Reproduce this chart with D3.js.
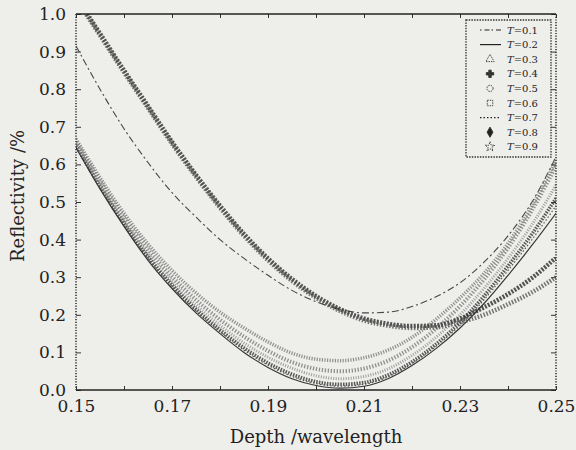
<!DOCTYPE html>
<html lang="zh">
<head>
<meta charset="utf-8">
<script src="https://d3js.org/d3.v7.min.js"></script>
<style>
body { margin: 0; background: #eeeeeb; }
text { font-family: "DejaVu Serif", serif; fill: #222; }
</style>
</head>
<body>
<svg width="576" height="450"></svg>
<script>
// depth (in wavelengths) and reflectivity
var depth = [0.150, 0.155, 0.160, 0.165, 0.170, 0.175, 0.180, 0.185, 0.190, 0.195, 0.200,
             0.205, 0.210, 0.215, 0.220, 0.225, 0.230, 0.235, 0.240, 0.245, 0.250];

var r01 = [0.915, 0.800, 0.695, 0.605, 0.525, 0.460, 0.400, 0.350, 0.305, 0.265, 0.235,
           0.215, 0.205, 0.207, 0.222, 0.248, 0.285, 0.340, 0.410, 0.500, 0.620];
var r02 = [0.645, 0.535, 0.435, 0.345, 0.270, 0.205, 0.150, 0.100, 0.060, 0.030, 0.012,
           0.005, 0.010, 0.030, 0.065, 0.110, 0.165, 0.230, 0.305, 0.385, 0.470];
var r03 = [0.668, 0.565, 0.470, 0.388, 0.318, 0.258, 0.207, 0.165, 0.128, 0.098, 0.082,
           0.078, 0.086, 0.106, 0.140, 0.188, 0.245, 0.310, 0.390, 0.490, 0.610];
var r04 = [0.650, 0.542, 0.443, 0.355, 0.280, 0.215, 0.160, 0.112, 0.072, 0.042, 0.022,
           0.015, 0.020, 0.040, 0.075, 0.122, 0.180, 0.250, 0.330, 0.415, 0.510];
var r05 = [0.655, 0.548, 0.450, 0.363, 0.290, 0.226, 0.172, 0.125, 0.087, 0.058, 0.038,
           0.030, 0.036, 0.056, 0.092, 0.140, 0.200, 0.270, 0.350, 0.440, 0.545];
var r06 = [0.660, 0.555, 0.458, 0.374, 0.302, 0.240, 0.187, 0.142, 0.104, 0.074, 0.056,
           0.050, 0.057, 0.078, 0.114, 0.163, 0.223, 0.294, 0.378, 0.478, 0.595];
var r07 = [0.647, 0.538, 0.439, 0.350, 0.275, 0.210, 0.155, 0.106, 0.066, 0.036, 0.017,
           0.010, 0.015, 0.035, 0.070, 0.116, 0.172, 0.240, 0.318, 0.400, 0.490];
var r08 = [1.045, 0.948, 0.850, 0.755, 0.660, 0.572, 0.490, 0.415, 0.350, 0.295, 0.250,
           0.215, 0.190, 0.176, 0.170, 0.172, 0.190, 0.220, 0.255, 0.298, 0.352];
var r09 = [1.040, 0.943, 0.845, 0.750, 0.655, 0.567, 0.485, 0.410, 0.345, 0.290, 0.245,
           0.210, 0.185, 0.171, 0.165, 0.167, 0.180, 0.200, 0.228, 0.260, 0.300];

var names = ["T=0.1", "T=0.2", "T=0.3", "T=0.4", "T=0.5", "T=0.6", "T=0.7", "T=0.8", "T=0.9"];
var values = [r01, r02, r03, r04, r05, r06, r07, r08, r09];

var xTicks = [0.15, 0.16, 0.17, 0.18, 0.19, 0.20, 0.21, 0.22, 0.23, 0.24, 0.25];
var xLabels = [0.15, 0.17, 0.19, 0.21, 0.23, 0.25];
var yTicks = [0.0, 0.1, 0.2, 0.3, 0.4, 0.5, 0.6, 0.7, 0.8, 0.9, 1.0];

// look of each series: dense scanned markers are faked with dashed thick strokes
var looks = [
  { stroke: "#333", width: 1.1, dash: "7,3,2,3", op: 0.9 },
  { stroke: "#222", width: 1.2, dash: null, op: 0.9 },
  { stroke: "#777", width: 3.5, dash: "1.2,1.4", sym: d3.symbolTriangle, fill: "none", op: 0.8 },
  { stroke: "#333", width: 3.5, dash: "1.5,1.2", sym: d3.symbolCross, fill: "#333", op: 0.8 },
  { stroke: "#888", width: 3, dash: "1,1.5", sym: d3.symbolCircle, fill: "none", op: 0.8 },
  { stroke: "#777", width: 4, dash: "1.3,1.7", sym: d3.symbolSquare, fill: "none", op: 0.8 },
  { stroke: "#444", width: 1.2, dash: "1.5,2", op: 0.9 },
  { stroke: "#2a2a2a", width: 4.5, dash: "2,1.4", sym: d3.symbolDiamond, fill: "#222", op: 0.8 },
  { stroke: "#555", width: 4.5, dash: "1.5,1.6", sym: d3.symbolStar, fill: "none", op: 0.8 }
];

var svg = d3.select("svg"),
    pL = 76, pR = 556, pT = 14, pB = 390;

var x = d3.scaleLinear().domain([0.15, 0.25]).range([pL, pR]);
var y = d3.scaleLinear().domain([0, 1]).range([pB, pT]);

svg.append("rect").attr("width", 576).attr("height", 450).attr("fill", "#eeeeeb");

svg.append("clipPath").attr("id", "plot")
  .append("rect").attr("x", pL).attr("y", pT)
  .attr("width", pR - pL).attr("height", pB - pT);

// curves
var line = d3.line()
    .x(function(d, i) { return x(depth[i]); })
    .y(function(d) { return y(d); })
    .curve(d3.curveMonotoneX);

var curves = svg.append("g").attr("clip-path", "url(#plot)");
values.forEach(function(v, k) {
  var s = looks[k];
  curves.append("path")
      .attr("d", line(v))
      .attr("fill", "none")
      .attr("stroke", s.stroke)
      .attr("stroke-width", s.width)
      .attr("stroke-dasharray", s.dash)
      .attr("opacity", s.op);
});

// axes (ticks point inward)
var fmt2 = d3.format(".2f");
svg.append("g").attr("transform", "translate(0," + pB + ")")
  .call(d3.axisBottom(x).tickValues(xTicks).tickSizeInner(-4).tickSizeOuter(0).tickPadding(10)
    .tickFormat(function(d) { return xLabels.some(function(l) { return Math.abs(l - d) < 1e-9; }) ? fmt2(d) : ""; }));
svg.append("g").attr("transform", "translate(0," + pT + ")")
  .call(d3.axisTop(x).tickValues(xTicks).tickSizeInner(-4).tickSizeOuter(0).tickFormat(""));
svg.append("g").attr("transform", "translate(" + pL + ",0)")
  .call(d3.axisLeft(y).tickValues(yTicks).tickSizeInner(-5).tickSizeOuter(0).tickPadding(10)
    .tickFormat(d3.format(".1f")));
svg.append("g").attr("transform", "translate(" + pR + ",0)")
  .call(d3.axisRight(y).tickValues(yTicks).tickSizeInner(-5).tickSizeOuter(0).tickFormat(""));

svg.selectAll(".domain").remove();
svg.selectAll(".tick line").attr("stroke", "#333");
svg.selectAll(".tick text").attr("font-size", 17).attr("font-family", "DejaVu Serif").attr("fill", "#222");

// frame: solid top/bottom, dotted sides
svg.append("line").attr("x1", pL).attr("x2", pR).attr("y1", pT).attr("y2", pT)
  .attr("stroke", "#222").attr("stroke-width", 1.4);
svg.append("line").attr("x1", pL).attr("x2", pR).attr("y1", pB).attr("y2", pB)
  .attr("stroke", "#222").attr("stroke-width", 1.4);
[pL, pR].forEach(function(px) {
  svg.append("line").attr("x1", px).attr("x2", px).attr("y1", pT).attr("y2", pB)
    .attr("stroke", "#333").attr("stroke-width", 1.6).attr("stroke-dasharray", "1.2,1.5");
});

// titles
svg.append("text").attr("x", 316).attr("y", 443).attr("text-anchor", "middle")
  .attr("font-size", 18).text("Depth /wavelength");
svg.append("text").attr("transform", "translate(24,196) rotate(-90)").attr("text-anchor", "middle")
  .attr("font-size", 18).text("Reflectivity /%");

// legend
var lg = svg.append("g");
lg.append("rect").attr("x", 466).attr("y", 20).attr("width", 85).attr("height", 137)
  .attr("fill", "#eeeeeb").attr("stroke", "#333").attr("stroke-width", 1.3)
  .attr("stroke-dasharray", "1.5,1.2");
names.forEach(function(n, k) {
  var s = looks[k], ry = 30 + k * 14.6;
  if (s.sym) {
    lg.append("path").attr("transform", "translate(490," + ry + ")")
      .attr("d", d3.symbol().type(s.sym).size(30)())
      .attr("fill", s.fill).attr("stroke", "#333").attr("stroke-width", 0.9)
      .attr("stroke-dasharray", s.fill === "none" ? "1.5,1" : null);
  } else {
    lg.append("line").attr("x1", 480).attr("x2", 501).attr("y1", ry).attr("y2", ry)
      .attr("stroke", "#222").attr("stroke-width", 1.2)
      .attr("stroke-dasharray", k === 0 ? "1.5,3,5,2" : s.dash);
  }
  var t = lg.append("text").attr("x", 507).attr("y", ry + 3.5).attr("font-size", 10);
  t.append("tspan").attr("font-style", "italic").text("T");
  t.append("tspan").text(n.slice(1));
});
</script>
</body>
</html>
